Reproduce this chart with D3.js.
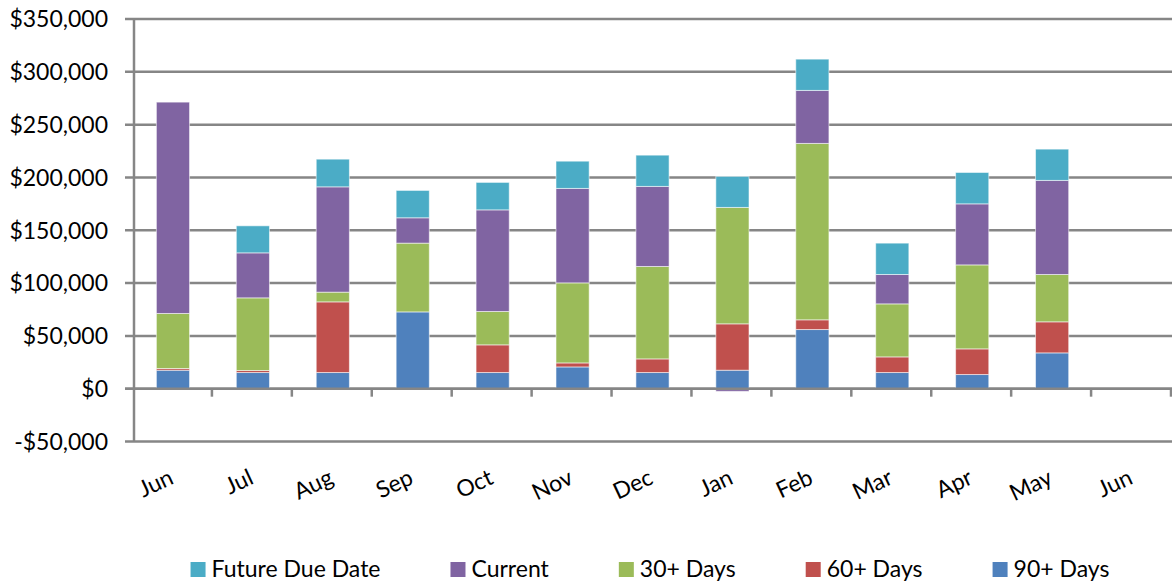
<!DOCTYPE html>
<html>
<head>
<meta charset="utf-8">
<script src="https://d3js.org/d3.v7.min.js"></script>
<style>
  body { margin: 0; background: #fff; }
  text { font-family: Lato, "Open Sans", sans-serif; fill: #000; }
</style>
</head>
<body>
<script>
// Chart data
var months = ["Jun", "Jul", "Aug", "Sep", "Oct", "Nov", "Dec", "Jan", "Feb", "Mar", "Apr", "May", "Jun "];
var seriesNames = ["90+ Days", "60+ Days", "30+ Days", "Current", "Future Due Date"];
var days90 = [17500, 15300, 15300, 72700, 15300, 20600, 15300, 17500, 56000, 15300, 13400, 33900, 0];
var days60 = [1600, 1900, 66900, 0, 26200, 3800, 12900, 43900, 9200, 14800, 24300, 29400, 0];
var days30 = [52100, 68800, 9200, 65100, 31600, 75800, 87500, 110200, 167000, 50200, 79500, 44800, 0];
var current = [200100, 42600, 99700, 24000, 96200, 89400, 75800, -2500, 50200, 27800, 57800, 89100, 0];
var futureDue = [0, 25600, 26200, 25900, 26000, 25800, 29600, 29400, 29600, 29700, 29700, 29600, 0];
var yTicks = [-50000, 0, 50000, 100000, 150000, 200000, 250000, 300000, 350000];
var legendOrder = ["Future Due Date", "Current", "30+ Days", "60+ Days", "90+ Days"];

var colors = {
    "90+ Days": "#4F81BD",
    "60+ Days": "#C0504D",
    "30+ Days": "#9BBB59",
    "Current": "#8064A2",
    "Future Due Date": "#4BACC6"
};

var svgWidth = 1172;
var svgHeight = 584;

var plotLeft = 133;
var plotRight = 1172;
var plotTop = 19;
var plotBottom = 441.5;

var svg = d3.select("body")
    .append("svg")
    .attr("width", svgWidth)
    .attr("height", svgHeight);

// Build rows for the stack
var rows = months.map((m, i) => {
    return {
        month: m,
        "90+ Days": days90[i],
        "60+ Days": days60[i],
        "30+ Days": days30[i],
        "Current": current[i],
        "Future Due Date": futureDue[i]
    };
});

var stacked = d3.stack()
    .keys(seriesNames)
    .offset(d3.stackOffsetDiverging)(rows);

// Scales
var xScale = d3.scaleBand()
    .domain(months)
    .range([plotLeft, plotRight])
    .paddingInner(0.585)
    .paddingOuter(0.2925);

var xStep = xScale.step();

var yScale = d3.scaleLinear()
    .domain([-50000, 350000])
    .range([plotBottom, plotTop]);

var gray = "#868686";

// Gridlines
svg.append("g")
    .selectAll("line")
    .data(yTicks)
    .enter()
    .append("line")
    .attr("x1", plotLeft - 8)
    .attr("x2", plotRight)
    .attr("y1", d => yScale(d))
    .attr("y2", d => yScale(d))
    .attr("stroke", gray)
    .attr("stroke-width", 2.5);

// Y axis labels
var fmt = d3.format("$,.0f");
svg.append("g")
    .selectAll("text")
    .data(yTicks)
    .enter()
    .append("text")
    .attr("x", 108)
    .attr("y", d => yScale(d))
    .attr("dy", "0.36em")
    .attr("text-anchor", "end")
    .style("font-size", "23px")
    .text(d => d < 0 ? "-" + fmt(-d) : fmt(d));

// Y axis line
svg.append("line")
    .attr("x1", plotLeft + 1)
    .attr("x2", plotLeft + 1)
    .attr("y1", plotTop)
    .attr("y2", plotBottom)
    .attr("stroke", gray)
    .attr("stroke-width", 2.5);

// Bars
var layers = svg.append("g")
    .selectAll("g")
    .data(stacked)
    .enter()
    .append("g")
    .attr("fill", d => colors[d.key]);

layers.selectAll("rect")
    .data(d => d.filter(s => s[1] - s[0] != 0))
    .enter()
    .append("rect")
    .attr("x", d => xScale(d.data.month))
    .attr("width", xScale.bandwidth())
    .attr("y", d => yScale(d[1]))
    .attr("height", d => yScale(d[0]) - yScale(d[1]))
    .attr("stroke", "#fff")
    .attr("stroke-opacity", 0.55)
    .attr("stroke-width", 1);

// Zero line with tick marks at category boundaries
var zeroY = yScale(0);
svg.append("line")
    .attr("x1", plotLeft - 8)
    .attr("x2", plotRight)
    .attr("y1", zeroY)
    .attr("y2", zeroY)
    .attr("stroke", gray)
    .attr("stroke-width", 2.5);

svg.append("g")
    .selectAll("line")
    .data(months)
    .enter()
    .append("line")
    .attr("x1", (d, i) => plotLeft + (i + 1) * xStep - 1)
    .attr("x2", (d, i) => plotLeft + (i + 1) * xStep - 1)
    .attr("y1", zeroY)
    .attr("y2", zeroY + 8)
    .attr("stroke", gray)
    .attr("stroke-width", 2.5);

// X axis labels (rotated)
svg.append("g")
    .selectAll("text")
    .data(months)
    .enter()
    .append("text")
    .attr("text-anchor", "end")
    .attr("transform", d => `translate(${xScale(d) + xScale.bandwidth() / 2 + 2}, 483) rotate(-25)`)
    .style("font-size", "23px")
    .text(d => d.trim());

// Legend
var legend = svg.append("g");
var items = legend.selectAll("g")
    .data(legendOrder)
    .enter()
    .append("g");

items.append("rect")
    .attr("x", 0)
    .attr("y", -15)
    .attr("width", 15)
    .attr("height", 15)
    .attr("fill", d => colors[d]);

items.append("text")
    .attr("x", 21)
    .attr("y", 0)
    .style("font-size", "23px")
    .text(d => d);

var widths = [];
items.each(function () {
    widths.push(21 + d3.select(this).select("text").node().getComputedTextLength());
});
var gap = 70;
var total = d3.sum(widths) + gap * (widths.length - 1);
var startX = 650 - total / 2;
var offsets = [];
widths.reduce((acc, w) => { offsets.push(acc); return acc + w + gap; }, startX);

items.attr("transform", (d, i) => `translate(${offsets[i]}, 577)`);
</script>
</body>
</html>
